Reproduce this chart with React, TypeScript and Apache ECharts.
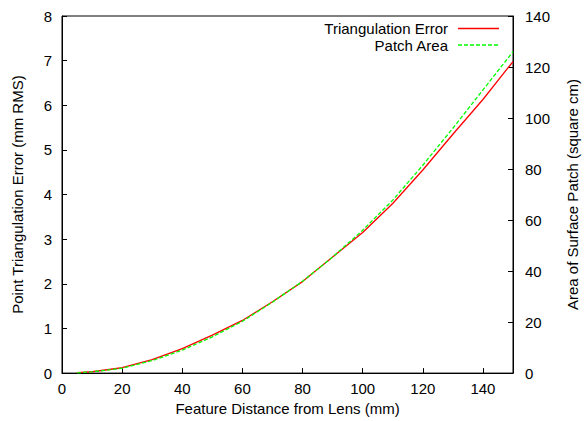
import React, { useEffect, useRef } from "react";
import * as echarts from "echarts";

const distances = [5, 10, 20, 30, 40, 50, 60, 70, 80, 90, 100, 110, 120, 130, 140, 150];
const triangulationError = [0.01, 0.03, 0.12, 0.3, 0.55, 0.85, 1.18, 1.6, 2.05, 2.6, 3.15, 3.8, 4.55, 5.35, 6.13, 6.98];
const patchArea = [0.1, 0.5, 1.9, 4.9, 9.0, 14.2, 20.3, 27.8, 36, 45.5, 56, 67.8, 81.5, 96, 111, 126];
const seriesNames = ["Triangulation Error", "Patch Area"];

const FONT = "Liberation Sans";
const FS = 15;

export default function App() {
  const ref = useRef<HTMLDivElement>(null);
  useEffect(() => {
    if (!ref.current) return;
    const chart = echarts.init(ref.current, undefined, { renderer: "svg" });
    const tickStyle = { show: true, inside: true, length: 5, lineStyle: { color: "#000", width: 1 } };
    const labelStyle = { color: "#000", fontFamily: FONT, fontSize: FS };
    const nameStyle = { color: "#000", fontFamily: FONT, fontSize: FS };
    const legendRows = [
      { name: seriesNames[0], y: 28.5, color: "#ff0000", dash: null as any },
      { name: seriesNames[1], y: 45, color: "#00ff00", dash: [4, 2] },
    ];
    chart.setOption({
      animation: false,
      backgroundColor: "#fff",
      grid: { left: 62, right: 70, top: 16, bottom: 45, show: true, borderColor: "#000", borderWidth: 1, containLabel: false },
      graphic: legendRows.flatMap((r) => [
        {
          type: "text",
          x: 448,
          y: r.y,
          style: { text: r.name, fill: "#000", font: `${FS}px ${FONT}`, textAlign: "right", textVerticalAlign: "middle" },
        },
        {
          type: "line",
          shape: { x1: 458, y1: r.y, x2: 499, y2: r.y },
          style: { stroke: r.color, lineWidth: 1.3, lineDash: r.dash },
        },
      ]),
      xAxis: {
        type: "value",
        min: 0,
        max: 150,
        interval: 20,
        name: "Feature Distance from Lens (mm)",
        nameLocation: "middle",
        nameGap: 26,
        nameTextStyle: nameStyle,
        axisLine: { show: true, lineStyle: { color: "#000" } },
        axisTick: tickStyle,
        axisLabel: { ...labelStyle, margin: 8, showMaxLabel: false },
        splitLine: { show: false },
      },
      yAxis: [
        {
          type: "value",
          min: 0,
          max: 8,
          interval: 1,
          position: "left",
          name: "Point Triangulation Error (mm RMS)",
          nameLocation: "middle",
          nameRotate: 90,
          nameGap: 37,
          nameTextStyle: nameStyle,
          axisLine: { show: true, lineStyle: { color: "#000" } },
          axisTick: tickStyle,
          axisLabel: { ...labelStyle, margin: 10 },
          splitLine: { show: false },
        },
        {
          type: "value",
          min: 0,
          max: 140,
          interval: 20,
          position: "right",
          name: "Area of Surface Patch (square cm)",
          nameLocation: "middle",
          nameRotate: 90,
          nameGap: 52,
          nameTextStyle: nameStyle,
          axisLine: { show: true, lineStyle: { color: "#000" } },
          axisTick: tickStyle,
          axisLabel: { ...labelStyle, margin: 12 },
          splitLine: { show: false },
        },
      ],
      series: [
        {
          name: seriesNames[0],
          type: "line",
          yAxisIndex: 0,
          data: distances.map((d, i) => [d, triangulationError[i]]),
          symbol: "none",
          color: "#ff0000",
          lineStyle: { color: "#ff0000", width: 1.3 },
        },
        {
          name: seriesNames[1],
          type: "line",
          yAxisIndex: 1,
          data: distances.map((d, i) => [d, patchArea[i]]),
          symbol: "none",
          color: "#00ff00",
          lineStyle: { color: "#00ff00", width: 1.3, type: [4, 2] },
        },
      ],
    });
    return () => chart.dispose();
  }, []);
  return <div ref={ref} style={{ width: 588, height: 421, position: "absolute", left: 0, top: 0 }} />;
}
